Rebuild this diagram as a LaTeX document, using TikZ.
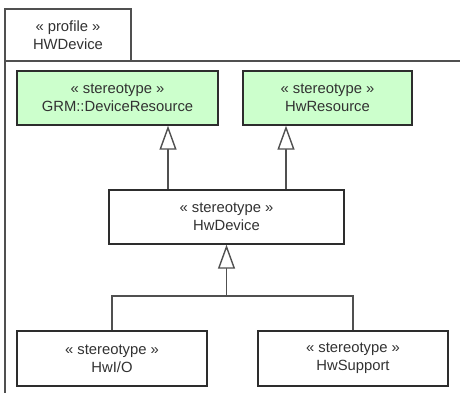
\documentclass[tikz,border=0pt]{standalone}
\usepackage{fontspec}
\setmainfont{Liberation Sans}
\usetikzlibrary{arrows.meta}
\definecolor{stfill}{RGB}{204,255,204}
\definecolor{ln}{RGB}{45,45,45}
\definecolor{frm}{RGB}{80,80,80}
\definecolor{txt}{RGB}{50,50,50}
\begin{document}
\begin{tikzpicture}[x=1pt,y=-1pt,
  box/.style={draw=ln, line width=1.4pt, fill=white, align=center, inner sep=0pt,
    text=txt, font=\fontsize{14.8}{18}\selectfont},
  stbox/.style={box, fill=stfill},
  gen/.style={draw=frm, line width=1.4pt, -{Triangle[open, length=24pt, width=17pt, fill=white]}},
  conn/.style={draw=frm, line width=1.4pt},
  frameline/.style={draw=frm, line width=2.2pt}]
\useasboundingbox (0,0) rectangle (460,392);
% package frame
\node[box, draw=frm, line width=1.4pt, minimum width=126pt, minimum height=52pt] (tab) at (68,35) {« profile »\\HWDevice};
\draw[frameline] (470,61) -- (5,61) -- (5,400);
% stereotypes
\node[stbox, minimum width=201pt, minimum height=54pt] (grm) at (117.5,98) {« stereotype »\\GRM::DeviceResource};
\node[stbox, minimum width=169pt, minimum height=54pt] (hwr) at (327.5,98) {« stereotype »\\HwResource};
\node[box, minimum width=235pt, minimum height=54pt] (dev) at (226.5,217) {« stereotype »\\HwDevice};
\node[box, minimum width=190pt, minimum height=55pt] (io) at (112,358.5) {« stereotype »\\HwI/O};
\node[box, minimum width=190pt, minimum height=55pt] (sup) at (353,358.5) {« stereotype »\\HwSupport};
% connectors
\coordinate (a1) at (168,0);
\coordinate (a2) at (286,0);
\coordinate (j) at (226.5,296);
\draw[gen] (dev.north -| a1) -- (grm.south -| a1);
\draw[gen] (dev.north -| a2) -- (hwr.south -| a2);
\draw[conn] (io.north) |- (j);
\draw[conn] (sup.north) |- (j);
\draw[gen] (j) -- (dev.south);
\end{tikzpicture}
\end{document}
